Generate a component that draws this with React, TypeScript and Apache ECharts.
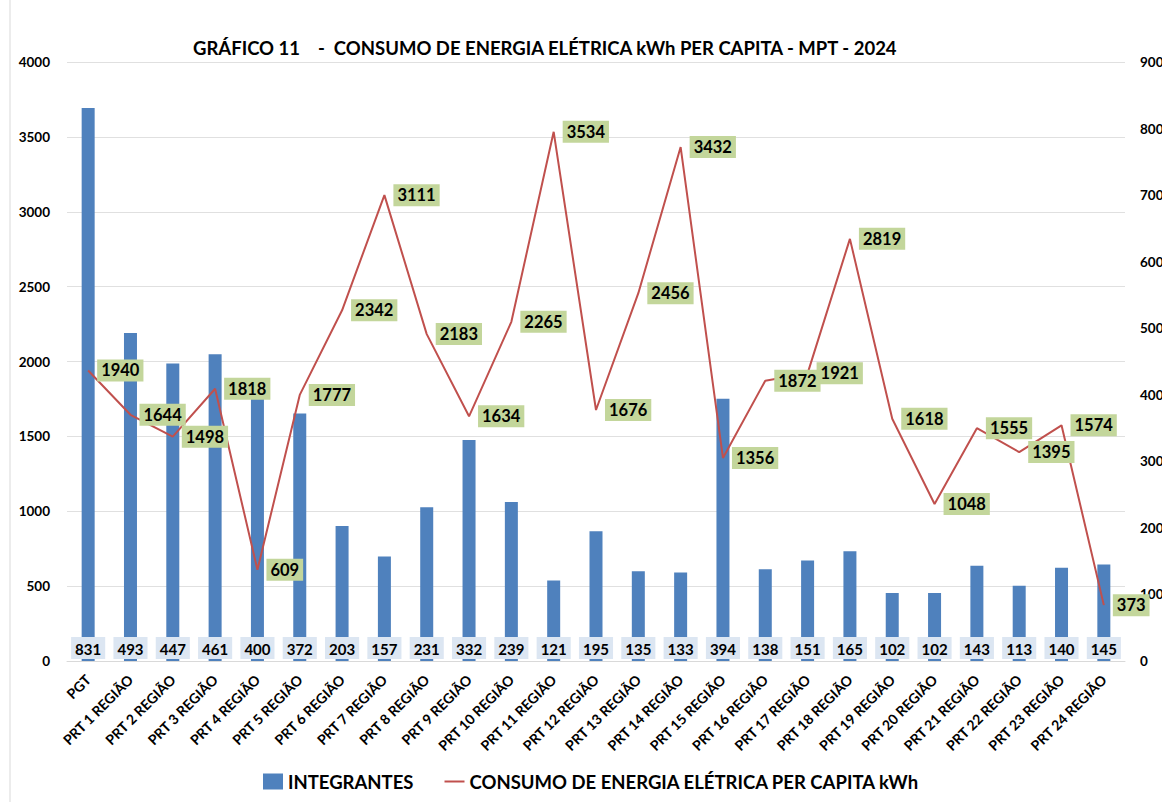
import React, { useEffect, useRef } from "react";
import * as echarts from "echarts";

const categories = [
  "PGT", "PRT 1 REGIÃO", "PRT 2 REGIÃO", "PRT 3 REGIÃO", "PRT 4 REGIÃO", "PRT 5 REGIÃO",
  "PRT 6 REGIÃO", "PRT 7 REGIÃO", "PRT 8 REGIÃO", "PRT 9 REGIÃO", "PRT 10 REGIÃO",
  "PRT 11 REGIÃO", "PRT 12 REGIÃO", "PRT 13 REGIÃO", "PRT 14 REGIÃO", "PRT 15 REGIÃO",
  "PRT 16 REGIÃO", "PRT 17 REGIÃO", "PRT 18 REGIÃO", "PRT 19 REGIÃO", "PRT 20 REGIÃO",
  "PRT 21 REGIÃO", "PRT 22 REGIÃO", "PRT 23 REGIÃO", "PRT 24 REGIÃO",
];

const integrantes = [
  831, 493, 447, 461, 400, 372, 203, 157, 231, 332, 239, 121, 195, 135, 133, 394,
  138, 151, 165, 102, 102, 143, 113, 140, 145,
];

const consumo = [
  1940, 1644, 1498, 1818, 609, 1777, 2342, 3111, 2183, 1634, 2265, 3534, 1676, 2456,
  3432, 1356, 1872, 1921, 2819, 1618, 1048, 1555, 1395, 1574, 373,
];

const FONT = "Lato, 'Open Sans', sans-serif";

export default function App() {
  const ref = useRef<HTMLDivElement>(null);
  useEffect(() => {
    if (!ref.current) return;
    const chart = echarts.init(ref.current, null, { renderer: "svg" });
    chart.setOption({
      animation: false,
      backgroundColor: "#ffffff",
      textStyle: { fontFamily: FONT },
      title: {
        text: "GRÁFICO 11    -  CONSUMO DE ENERGIA ELÉTRICA kWh PER CAPITA - MPT - 2024",
        left: 188,
        top: 33,
        textStyle: { fontFamily: FONT, fontSize: 18.5, fontWeight: "bold", color: "#000" },
      },
      legend: {
        bottom: 6,
        left: 258,
        itemGap: 30,
        itemWidth: 20,
        itemHeight: 16,
        textStyle: { fontFamily: FONT, fontSize: 18.5, fontWeight: "bold", color: "#000" },
        data: [
          { name: "INTEGRANTES", icon: "rect" },
          { name: "CONSUMO DE ENERGIA ELÉTRICA PER CAPITA kWh" },
        ],
      },
      grid: {
        left: 67,
        right: 37,
        top: 62,
        bottom: 141,
        containLabel: false,
        outerBoundsMode: "none",
      },
      xAxis: {
        type: "category",
        data: categories,
        axisLine: { lineStyle: { color: "#d9d9d9", width: 1 } },
        axisTick: { show: false },
        axisLabel: {
          rotate: 45,
          interval: 0,
          margin: 16,
          fontFamily: FONT,
          fontSize: 14,
          fontWeight: "bold",
          color: "#000",
        },
      },
      yAxis: [
        {
          type: "value",
          min: 0,
          max: 4000,
          interval: 500,
          axisLine: { show: false },
          axisTick: { show: false },
          splitLine: { lineStyle: { color: "#e0e0e0" } },
          axisLabel: {
            margin: 17,
            fontFamily: FONT,
            fontSize: 13.5,
            fontWeight: "bold",
            color: "#000",
            formatter: (v: number) => String(v),
          },
        },
        {
          type: "value",
          min: 0,
          max: 900,
          interval: 100,
          position: "right",
          axisLine: { show: false },
          axisTick: { show: false },
          splitLine: { show: false },
          axisLabel: {
            margin: 15,
            fontFamily: FONT,
            fontSize: 13.5,
            fontWeight: "bold",
            color: "#000",
            formatter: (v: number) => String(v),
          },
        },
      ],
      series: [
        {
          name: "INTEGRANTES",
          type: "bar",
          yAxisIndex: 1,
          data: integrantes,
          barWidth: 13,
          itemStyle: { color: "#4f81bd" },
          label: {
            show: true,
            position: "insideBottom",
            distance: 2,
            fontFamily: FONT,
            fontSize: 15,
            fontWeight: "bold",
            color: "#000",
            backgroundColor: "#dce6f2",
            padding: [4, 4, 3, 4],
          },
          z: 2,
        },
        {
          name: "CONSUMO DE ENERGIA ELÉTRICA PER CAPITA kWh",
          type: "line",
          yAxisIndex: 0,
          data: consumo,
          symbol: "circle",
          symbolSize: 2,
          showSymbol: true,
          lineStyle: { color: "#c0504d", width: 2 },
          itemStyle: { color: "rgba(192,80,77,0)" },
          label: {
            show: true,
            position: "right",
            distance: 8,
            fontFamily: FONT,
            fontSize: 16.5,
            fontWeight: "bold",
            color: "#000",
            backgroundColor: "#c3d69b",
            padding: [3, 4, 2, 4],
          },
          z: 5,
        },
      ],
      graphic: [
        {
          type: "line",
          shape: { x1: 10, y1: 0, x2: 10, y2: 802 },
          style: { stroke: "#d9d9d9", lineWidth: 1 },
        },
      ],
    });
    return () => chart.dispose();
  }, []);
  return (
    <div
      ref={ref}
      style={{ position: "fixed", left: 0, top: 0, width: 1162, height: 802, overflow: "hidden" }}
    />
  );
}
